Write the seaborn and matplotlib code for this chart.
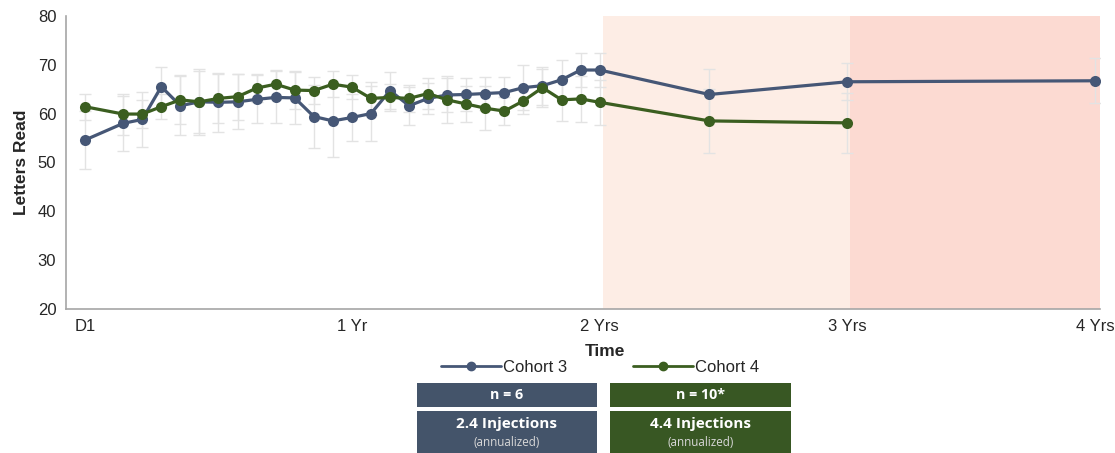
import numpy as np
import pandas as pd
import matplotlib
matplotlib.use("Agg")
import matplotlib.pyplot as plt
from matplotlib.lines import Line2D
from matplotlib.patches import Rectangle
import seaborn as sns

# ---------------- data (x = weeks from Day 1) ----------------
weeks = [0, 8, 12, 16, 20, 24, 28, 32, 36, 40, 44, 48, 52, 56, 60, 64, 68, 72,
         76, 80, 84, 88, 92, 96, 100, 104, 108, 131, 160, 212]
cohort3 = [54.6, 58.0, 58.8, 65.5, 61.6, 62.4, 62.3, 62.4, 62.9, 63.3, 63.2, 59.4,
           58.5, 59.2, 60.0, 64.7, 61.6, 63.1, 63.8, 63.9, 64.1, 64.3, 65.3, 65.7,
           66.9, 68.9, 68.9, 63.9, 66.5, 66.7]
cohort3_err = [6.0, 5.6, 5.6, 4.1, 6.0, 6.4, 6.0, 5.6, 4.9, 5.3, 5.3, 6.5,
               7.3, 4.9, 5.7, 3.7, 3.9, 3.1, 3.4, 3.3, 3.4, 3.2, 4.6, 3.9,
               4.0, 3.4, 3.4, 5.3, 3.8, 4.6]
weeks4 = weeks[:29]
cohort4 = [61.4, 59.9, 59.9, 61.4, 62.8, 62.4, 63.1, 63.45, 65.2, 66.0, 64.8, 64.7,
           66.0, 65.4, 63.1, 63.3, 63.1, 64.1, 62.8, 61.95, 61.1, 60.5, 62.6, 65.3,
           62.8, 63.0, 62.3, 58.5, 58.1]
cohort4_err = [2.7, 4.2, 2.9, 2.5, 5.0, 6.8, 5.0, 4.7, 2.8, 2.9, 3.8, 2.8,
               2.6, 2.5, 3.4, 2.7, 2.7, 3.1, 4.8, 3.6, 4.5, 2.8, 2.6, 3.9,
               4.3, 4.7, 4.6, 6.6, 6.2]
tick_weeks = [0, 56, 108, 160, 212]
tick_labels = ["D1", "1 Yr", "2 Yrs", "3 Yrs", "4 Yrs"]
series_names = ["Cohort 3", "Cohort 4"]
box_n = ["n = 6", "n = 10*"]
box_inj = ["2.4 Injections", "4.4 Injections"]
box_sub = ["(annualized)", "(annualized)"]

# ---------------- style ----------------
sns.set_theme(style="white")
plt.rcParams["font.family"] = ["Liberation Sans", "DejaVu Sans"]

blue = "#465776"
green = "#3b5e20"
box_blue = "#44546a"
box_green = "#385723"
err_col = "#e3e3e3"
axis_col = "#a6a6a6"
text_col = "#262626"

df = pd.concat([
    pd.DataFrame({"week": weeks, "value": cohort3, "cohort": series_names[0]}),
    pd.DataFrame({"week": weeks4, "value": cohort4, "cohort": series_names[1]}),
])

fig = plt.figure(figsize=(11.15, 4.53), dpi=100)
ax = fig.add_axes([66 / 1115, 1 - 309.3 / 453, (1100 - 66) / 1115, (309.3 - 15.7) / 453])

# shaded periods
ax.axvspan(108.8, 160.5, color="#fdede5", lw=0, zorder=0)
ax.axvspan(160.5, 213, color="#fcdad2", lw=0, zorder=0)

# error bars
ax.errorbar(weeks, cohort3, yerr=cohort3_err, fmt="none", ecolor=err_col,
            elinewidth=1.0, capsize=4, capthick=1.0, zorder=1)
ax.errorbar(weeks4, cohort4, yerr=cohort4_err, fmt="none", ecolor=err_col,
            elinewidth=1.0, capsize=4, capthick=1.0, zorder=1)

sns.lineplot(data=df, x="week", y="value", hue="cohort",
             palette={series_names[0]: blue, series_names[1]: green},
             marker="o", markersize=8, markeredgewidth=0, linewidth=2.3,
             legend=False, ax=ax, zorder=3)

ax.set_xlim(-4, 213)
ax.set_ylim(20, 80)
ax.set_yticks(range(20, 81, 10))
all_ticks = list(range(-4, 213, 4))
ax.set_xticks(all_ticks)
ax.set_xticklabels([tick_labels[tick_weeks.index(t)] if t in tick_weeks else "" for t in all_ticks])
ax.tick_params(axis="both", which="both", direction="out", length=4, width=1,
               color=axis_col, labelsize=12, labelcolor=text_col, pad=3)
for s in ["top", "right"]:
    ax.spines[s].set_visible(False)
for s in ["left", "bottom"]:
    ax.spines[s].set_color(axis_col)
    ax.spines[s].set_linewidth(1.2)
ax.set_xlabel("")
ax.set_ylabel("Letters Read", fontsize=12.5, fontweight="bold", color=text_col, labelpad=6)
ax.patch.set_alpha(0)

fig.text(605 / 1115, 1 - 352 / 453, "Time", ha="center", va="center",
         fontsize=12.5, fontweight="bold", color=text_col)

handles = [Line2D([0], [0], color=blue, lw=2, marker="o", markersize=6),
           Line2D([0], [0], color=green, lw=2, marker="o", markersize=6)]
fig.legend(handles, series_names, loc="center", bbox_to_anchor=(600 / 1115, 1 - 367 / 453),
           ncol=2, frameon=False, fontsize=12, handlelength=3.6, handletextpad=0.1,
           columnspacing=4.0, labelcolor=text_col)

# info boxes
box_font = ["Open Sans", "DejaVu Sans"]
for i, (x0, x1, col) in enumerate([(417, 597, box_blue), (610, 791, box_green)]):
    fx, fw = x0 / 1115, (x1 - x0) / 1115
    fig.patches.append(Rectangle((fx, 1 - 407 / 453), fw, 24 / 453, transform=fig.transFigure,
                                 facecolor=col, edgecolor="none"))
    fig.patches.append(Rectangle((fx, 0), fw, 42 / 453, transform=fig.transFigure,
                                 facecolor=col, edgecolor="none"))
    cx = (x0 + x1) / 2 / 1115
    fig.text(cx, 1 - 395 / 453, box_n[i], ha="center", va="center", color="white",
             fontsize=10.3, fontweight="bold", family=box_font)
    fig.text(cx, 1 - 424 / 453, box_inj[i], ha="center", va="center", color="white",
             fontsize=11, fontweight="bold", family=box_font)
    fig.text(cx, 1 - 442 / 453, box_sub[i], ha="center", va="center", color="#d8d8d8",
             fontsize=8.4, family=box_font)

fig.savefig("out.png", dpi=100)
